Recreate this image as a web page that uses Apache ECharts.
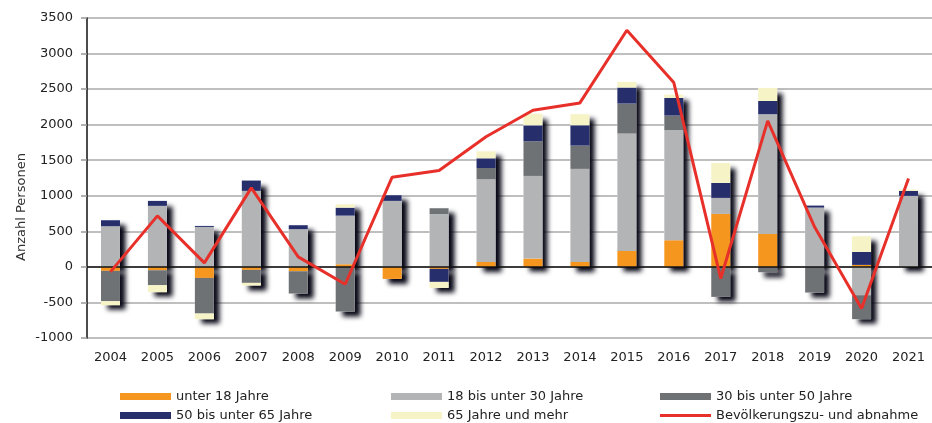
<!DOCTYPE html>
<html>
<head>
<meta charset="utf-8">
<script src="https://cdn.jsdelivr.net/npm/echarts@6/dist/echarts.min.js"></script>
<style>
  html, body { margin: 0; padding: 0; background: #fff; }
  #chart { width: 932px; height: 423px; }
</style>
</head>
<body>
<div id="chart"></div>
<script>
// Jahre
var years = ['2004','2005','2006','2007','2008','2009','2010','2011','2012',
             '2013','2014','2015','2016','2017','2018','2019','2020','2021'];

// Wanderungssaldo nach Altersgruppen
var unter18   = [-56, -47, -155, -42, -61, 37, -169, -28, 70, 117, 70, 225, 375, 745, 464, 0, 28, 0];
var bis30     = [572, 858, 562, 1069, 530, 684, 928, 741, 1162, 1162, 1308, 1650, 1547, 225, 1683, 834, -398, 998];
var bis50     = [-427, -211, -501, -183, -314, -628, 0, 84, 159, 487, 328, 422, 206, -422, -75, -361, -337, 0];
var bis65     = [84, 70, 14, 145, 56, 112, 80, -183, 136, 225, 286, 225, 248, 211, 187, 28, 183, 70];
var ab65      = [-56, -98, -80, -37, 0, 47, 0, -84, 98, 164, 155, 80, 47, 281, 183, 0, 220, 19];

// Bevölkerungszu- und abnahme
var bevoelkerung = [-70, 717, 56, 1111, 141, -244, 1261, 1355, 1830, 2203, 2306, 3328, 2592, -164, 2053, 560, -586, 1242];

var yTicks = { min: -1000, max: 3500, interval: 500 };

var names = ['unter 18 Jahre', '18 bis unter 30 Jahre', '30 bis unter 50 Jahre',
             '50 bis unter 65 Jahre', '65 Jahre und mehr', 'Bevölkerungszu- und abnahme'];
var colors = ['#f5961f', '#b2b4b6', '#6f7275', '#262e6c', '#f6f4c6', '#e8302a'];

var font = 'DejaVu Sans';
var chart = echarts.init(document.getElementById('chart'));

// Summen nur für den Schlagschatten hinter den Stapeln
var groups = [unter18, bis30, bis50, bis65, ab65];
var posSum = [], negSum = [];
for (var i = 0; i < years.length; i++) {
    var p = 0, n = 0;
    for (var g = 0; g < groups.length; g++) {
        if (groups[g][i] > 0) p += groups[g][i]; else n += groups[g][i];
    }
    posSum.push(p);
    negSum.push(n);
}

var shadowStyle = {
    color: '#ffffff',
    shadowColor: 'rgba(5,5,20,1)',
    shadowBlur: 5,
    shadowOffsetX: 6,
    shadowOffsetY: 5
};

var series = [
    { name: 'schatten+', type: 'bar', stack: 's', data: posSum, barWidth: 19, barGap: '-100%',
      itemStyle: shadowStyle, z: 1, silent: true },
    { name: 'schatten-', type: 'bar', stack: 's', data: negSum, barWidth: 19, barGap: '-100%',
      itemStyle: shadowStyle, z: 1, silent: true }
];
for (var k = 0; k < groups.length; k++) {
    series.push({
        name: names[k], type: 'bar', stack: 'a', data: groups[k],
        barWidth: 19, barGap: '-100%', z: 2,
        itemStyle: { color: colors[k] }
    });
}
series.push({
    name: names[5], type: 'line', data: bevoelkerung, symbol: 'none', z: 5,
    lineStyle: { color: colors[5], width: 3 },
    itemStyle: { color: colors[5] },
    markLine: {
        silent: true, symbol: 'none', label: { show: false },
        lineStyle: { color: '#111', width: 1.5, type: 'solid' },
        data: [{ yAxis: 0 }]
    }
});

// je Eintrag eine eigene Legende, damit die Spalten sauber stehen
function legendItem(left, top, name, icon) {
    return {
        left: left, top: top, padding: 0,
        itemWidth: 51, itemHeight: 7,
        textStyle: { fontFamily: font, fontSize: 13, color: '#222' },
        data: [{ name: name, icon: icon }]
    };
}
var rect = 'rect';
var strich = 'path://M0,0 H51 V3 H0 Z';

var option = {
    animation: false,
    color: colors,
    grid: { left: 87, right: -4, top: 18, bottom: 85 },
    legend: [
        legendItem(120, 390, names[0], rect),
        legendItem(120, 409, names[3], rect),
        legendItem(391, 390, names[1], rect),
        legendItem(391, 409, names[4], rect),
        legendItem(660, 390, names[2], rect),
        legendItem(660, 409, names[5], strich)
    ],
    xAxis: {
        type: 'category', data: years,
        axisLine: { onZero: false, show: false },
        axisTick: { show: false },
        axisLabel: { fontFamily: font, fontSize: 13, color: '#222', margin: 13 }
    },
    yAxis: {
        type: 'value', min: yTicks.min, max: yTicks.max, interval: yTicks.interval,
        axisLine: { show: true, lineStyle: { color: '#111', width: 1.5 } },
        axisTick: { show: true, length: 6, lineStyle: { color: '#999', width: 1.5 } },
        axisLabel: { fontFamily: font, fontSize: 13, color: '#222', margin: 14,
                     formatter: function (v) { return String(v); } },
        splitLine: { lineStyle: { color: '#aaa', width: 1.5 } }
    },
    graphic: [{
        type: 'text', x: 22, y: 207, rotation: Math.PI / 2,
        style: { text: 'Anzahl Personen', font: '13px "DejaVu Sans"', fill: '#333',
                 align: 'center', verticalAlign: 'middle' }
    }],
    series: series
};

chart.setOption(option);
</script>
</body>
</html>
